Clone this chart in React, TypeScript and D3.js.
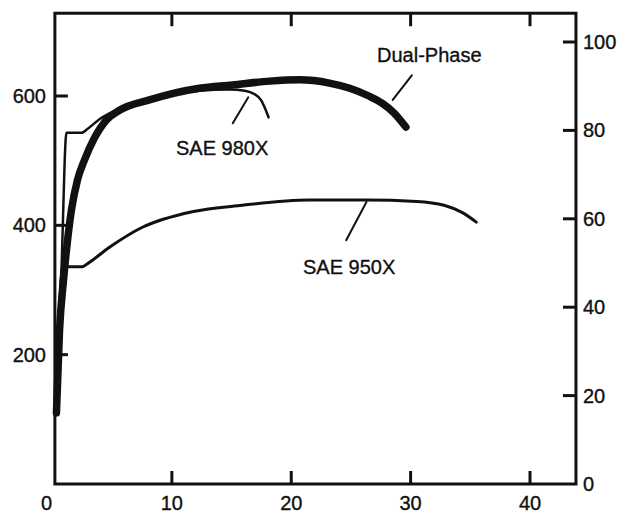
import React from "react";
import * as d3 from "d3";

// Engineering stress-strain curves for three sheet steels.
// x: elongation (%), y: stress (MPa, left axis) / (ksi, right axis)

const dualPhaseStrain = [0.33, 0.59, 0.92, 1.26, 1.59, 2.09, 2.68, 3.51, 4.52, 5.61, 8.12, 12.3, 15.06, 18.2, 20.7, 23.2, 24.9, 26.5, 27.6, 28.6, 29.6];
const dualPhaseStress = [110, 238, 315, 377, 424, 470, 501, 535, 563, 578, 594, 612, 617, 623, 625, 620, 612, 600, 589, 574, 552];

const sae980Strain = [0.33, 0.75, 1.17, 2.43, 2.93, 3.93, 5.6, 8.1, 12.3, 14.8, 16.1, 16.9, 17.5, 17.8, 18.1];
const sae980Stress = [114, 330, 543, 543, 549, 564, 580, 594, 608, 610, 608, 603, 593, 581, 567];

const sae950Strain = [0.33, 0.84, 2.5, 3.1, 4.77, 7.53, 11.7, 15.9, 21.5, 26.3, 30.5, 32.8, 34.3, 35.5];
const sae950Stress = [115, 336, 336, 343, 366, 397, 421, 431, 439, 439, 437, 431, 420, 405];

const xTicks = [0, 10, 20, 30, 40];
const mpaTicks = [200, 400, 600];
const ksiTicks = [0, 20, 40, 60, 80, 100];

const W = 621;
const H = 516;

const x = d3.scaleLinear().domain([0, 40]).range([52.5, 530]);
const yMpa = d3.scaleLinear().domain([0, 600]).range([484, 96]);
const yKsi = d3.scaleLinear().domain([0, 100]).range([484, 42]);

const left = x(0.2);
const right = x(43.85);
const top = yMpa(728);
const bottom = yMpa(0);

const toPts = (xs: number[], ys: number[]) => xs.map((v, i) => [v, ys[i]] as [number, number]);

const line = d3
  .line<[number, number]>()
  .x((d) => x(d[0]))
  .y((d) => yMpa(d[1]))
  .curve(d3.curveMonotoneX);

const font = "'Liberation Sans', Arial, Helvetica, sans-serif";
const ink = "#111";
const tickLen = 13;

export default function App() {
  return (
    <div style={{ position: "fixed", left: 0, top: 0 }}>
      <svg width={W} height={H} viewBox={`0 0 ${W} ${H}`} style={{ display: "block", background: "#fff" }}>
        <g fill="none" stroke={ink} strokeLinecap="round" strokeLinejoin="round">
          {/* curves */}
          <path d={line(toPts(sae950Strain, sae950Stress)) || ""} strokeWidth={3} />
          <path d={line(toPts(sae980Strain, sae980Stress)) || ""} strokeWidth={2.5} />
          <path d={line(toPts(dualPhaseStrain, dualPhaseStress)) || ""} strokeWidth={7.5} />

          {/* leader lines */}
          <line x1={x(28.5)} y1={yMpa(594)} x2={x(30.1)} y2={yMpa(632)} strokeWidth={2} />
          <line x1={x(15.1)} y1={yMpa(558)} x2={x(16.4)} y2={yMpa(598)} strokeWidth={2} />
          <line x1={x(24.6)} y1={yMpa(377)} x2={x(26.3)} y2={yMpa(436)} strokeWidth={2} />
        </g>

        {/* frame */}
        <rect x={left} y={top} width={right - left} height={bottom - top} fill="none" stroke={ink} strokeWidth={3} />

        <g stroke={ink} strokeWidth={3}>
          {xTicks.filter((t) => t > 0).map((t) => (
            <g key={"xt" + t}>
              <line x1={x(t)} x2={x(t)} y1={bottom} y2={bottom - tickLen} />
              <line x1={x(t)} x2={x(t)} y1={top} y2={top + tickLen} />
            </g>
          ))}
          {mpaTicks.map((t) => (
            <line key={"lt" + t} x1={left} x2={left + tickLen} y1={yMpa(t)} y2={yMpa(t)} />
          ))}
          {ksiTicks.filter((t) => t > 0).map((t) => (
            <line key={"rt" + t} x1={right} x2={right - tickLen} y1={yKsi(t)} y2={yKsi(t)} />
          ))}
        </g>

        <g fontFamily={font} fontSize={20} fill={ink} stroke={ink} strokeWidth={0.35}>
          {xTicks.map((t) => (
            <text key={"xl" + t} x={x(t) + (t === 0 ? -6 : 0)} y={510} textAnchor="middle">
              {t}
            </text>
          ))}
          {mpaTicks.map((t) => (
            <text key={"ll" + t} x={46} y={yMpa(t) + 7} textAnchor="end">
              {t}
            </text>
          ))}
          {ksiTicks.map((t) => (
            <text key={"rl" + t} x={583} y={yKsi(t) + 7} textAnchor="start">
              {t}
            </text>
          ))}

          <text x={377} y={62}>Dual-Phase</text>
          <text x={176} y={155}>SAE 980X</text>
          <text x={303} y={274}>SAE 950X</text>
        </g>
      </svg>
    </div>
  );
}
